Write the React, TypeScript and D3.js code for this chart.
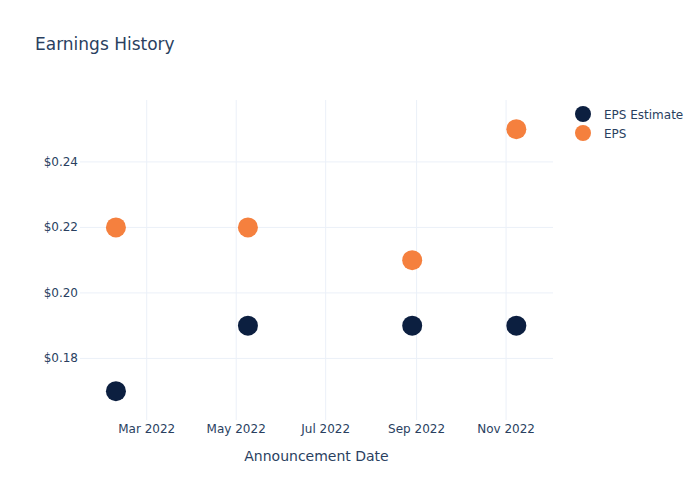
import React from "react";
import * as d3 from "d3";

const dates = ["2022-02-08", "2022-05-09", "2022-08-29", "2022-11-08"];
const epsEstimate = [0.17, 0.19, 0.19, 0.19];
const eps = [0.22, 0.22, 0.21, 0.25];
const yTicks = [0.18, 0.2, 0.22, 0.24];
const xTicks = ["2022-03-01", "2022-05-01", "2022-07-01", "2022-09-01", "2022-11-01"];
const seriesNames = ["EPS Estimate", "EPS"];

const W = 700, H = 500;
const left = 80, right = 553, top = 100, bottom = 420;
const textColor = "#2a3f5f";
const gridColor = "#ebf0f8";
const navy = "#0c1f40";
const orange = "#f5803e";
const font = "'DejaVu Sans', sans-serif";

export default function App() {
  const parse = d3.timeParse("%Y-%m-%d");
  const x = d3
    .scaleTime()
    .domain([new Date(2022, 0, 14, 12), new Date(2022, 11, 3)])
    .range([left, right]);
  const y = d3.scaleLinear().domain([0.1612, 0.2589]).range([bottom, top]);
  const fmtX = d3.timeFormat("%b %Y");
  const fmtY = (v: number) => "$" + v.toFixed(2);

  return (
    <svg width={W} height={H} style={{ position: "absolute", left: 0, top: 0, background: "#fff" }}>
      <text x={35} y={50} fontSize={17} fill={textColor} fontFamily={font}>
        Earnings History
      </text>
      {xTicks.map((t) => {
        const px = x(parse(t)!);
        return (
          <g key={t}>
            <line x1={px} x2={px} y1={top} y2={bottom} stroke={gridColor} strokeWidth={1} />
            <text x={px} y={433} fontSize={12} fill={textColor} textAnchor="middle" fontFamily={font}>
              {fmtX(parse(t)!)}
            </text>
          </g>
        );
      })}
      {yTicks.map((t) => {
        const py = y(t);
        return (
          <g key={t}>
            <line x1={left} x2={right} y1={py} y2={py} stroke={gridColor} strokeWidth={1} />
            <text x={left - 2} y={py + 4} fontSize={12} fill={textColor} textAnchor="end" fontFamily={font}>
              {fmtY(t)}
            </text>
          </g>
        );
      })}
      <text x={(left + right) / 2} y={461} fontSize={14} fill={textColor} textAnchor="middle" fontFamily={font}>
        Announcement Date
      </text>
      {dates.map((d, i) => (
        <circle key={"e" + i} cx={x(parse(d)!)} cy={y(epsEstimate[i])} r={10} fill={navy} />
      ))}
      {dates.map((d, i) => (
        <circle key={"a" + i} cx={x(parse(d)!)} cy={y(eps[i])} r={10} fill={orange} />
      ))}
      {seriesNames.map((n, i) => (
        <g key={n} transform={`translate(583, ${114 + i * 19})`}>
          <circle cx={0} cy={0} r={8} fill={i === 0 ? navy : orange} />
          <text x={21} y={4.5} fontSize={12} fill={textColor} fontFamily={font}>
            {n}
          </text>
        </g>
      ))}
    </svg>
  );
}
